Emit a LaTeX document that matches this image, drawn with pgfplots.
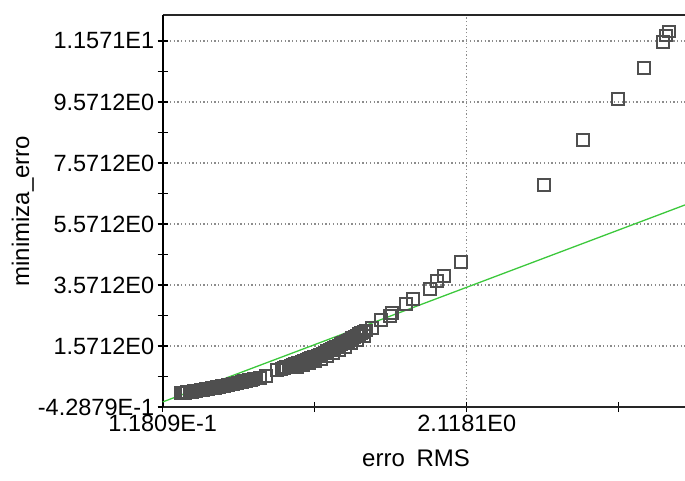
\documentclass[border=0pt]{standalone}
\usepackage{pgfplots}
\pgfplotsset{compat=1.18}
\usepackage{fontspec}
\setmainfont{Liberation Sans}
\definecolor{markgray}{HTML}{4F4F4F}
\definecolor{fitgreen}{HTML}{3CC83C}
\definecolor{gridgray}{HTML}{8C8C8C}

\begin{document}
\begin{tikzpicture}
\begin{axis}[
  at={(0pt,0pt)}, anchor=south west,
  scale only axis,
  width=522.3pt, height=392pt,
  xmin=0.11809, xmax=3.554,
  ymin=-0.42879, ymax=12.42,
  axis x line*=box, axis y line*=left,
  x axis line style={line width=2pt, black!85},
  y axis line style={line width=2pt, black, -},
  xtick={0.11809,2.1181},
  xticklabels={1.1809E-1, 2.1181E0},
  minor xtick={1.1181,3.1181},
  ytick={-0.42879,1.5712,3.5712,5.5712,7.5712,9.5712,11.571},
  yticklabels={-4.2879E-1, 1.5712E0, 3.5712E0, 5.5712E0, 7.5712E0, 9.5712E0, 1.1571E1},
  minor ytick={0.5712,2.5712,4.5712,6.5712,8.5712,10.5712},
  xtick pos=left, ytick pos=left,
  tick align=center,
  major tick length=10pt, minor tick length=10pt,
  every tick/.style={black, line width=1.5pt},
  grid=major,
  major grid style={gridgray, line width=1.3pt, dash pattern=on 1.3pt off 2.4pt},
  ticklabel style={font=\fontsize{23.5}{26}\selectfont},
  /pgf/number format/assume math mode=true,
  xlabel={erro\hspace{5pt} RMS},
  ylabel={minimiza\_erro},
  label style={font=\fontsize{24}{28}\selectfont},
  xlabel style={at={(axis description cs:0.485,-0.13)}, anchor=center},
  ylabel style={at={(axis description cs:-0.268,0.5)}, anchor=center},
]
\addplot[only marks, mark=square, mark size=5.9pt,
  mark options={draw=markgray, line width=2pt, fill=none}] coordinates {
  (0.235,0.020) (0.250,0.030) (0.265,0.041) (0.280,0.052) (0.295,0.063)
  (0.310,0.074) (0.325,0.086) (0.340,0.098) (0.355,0.110) (0.370,0.123)
  (0.385,0.135) (0.400,0.149) (0.415,0.162) (0.430,0.175) (0.445,0.189)
  (0.460,0.204) (0.475,0.218) (0.490,0.233) (0.505,0.248) (0.520,0.263)
  (0.535,0.278) (0.550,0.294) (0.565,0.310) (0.580,0.326) (0.595,0.343)
  (0.610,0.360) (0.625,0.377) (0.640,0.394) (0.655,0.412) (0.670,0.430)
  (0.685,0.448) (0.700,0.467) (0.715,0.485) (0.730,0.504)
  (0.758,0.532) (0.798,0.588) (0.868,0.784)
  (0.900,0.820) (0.915,0.845) (0.930,0.870) (0.945,0.896) (0.960,0.922)
  (0.975,0.949) (0.990,0.976) (1.005,1.003) (1.020,1.030) (1.035,1.058)
  (1.050,1.085) (1.065,1.113) (1.080,1.141) (1.095,1.170) (1.110,1.199)
  (1.125,1.228) (1.140,1.258) (1.155,1.290) (1.170,1.325) (1.185,1.360)
  (1.200,1.396) (1.215,1.432) (1.230,1.470) (1.245,1.508) (1.260,1.546)
  (1.275,1.585) (1.290,1.625) (1.305,1.665) (1.320,1.705) (1.335,1.745)
  (1.350,1.786) (1.365,1.827) (1.380,1.868) (1.395,1.910) (1.410,1.952)
  (1.425,1.994) (1.440,2.036) (1.455,2.078)
  (1.000,0.880) (1.040,0.940) (1.080,1.010) (1.120,1.080) (1.160,1.150)
  (1.200,1.240) (1.240,1.330) (1.280,1.430) (1.320,1.540) (1.360,1.660)
  (1.400,1.780) (1.440,1.900)
  (1.493,2.152) (1.552,2.424) (1.613,2.565) (1.629,2.643) (1.719,2.948)
  (1.767,3.112) (1.877,3.440) (1.925,3.702) (1.969,3.876) (2.080,4.315)
  (2.629,6.850) (2.883,8.315) (3.115,9.660) (3.286,10.686)
  (3.411,11.548) (3.427,11.745) (3.451,11.876)
};
\addplot[fitgreen, line width=1.3pt] coordinates {(0.11809,-0.263) (3.554,6.194)};
\end{axis}
\pgfresetboundingbox
\useasboundingbox (-162.7pt,-73pt) rectangle (522.3pt,407pt);
\end{tikzpicture}
\end{document}
